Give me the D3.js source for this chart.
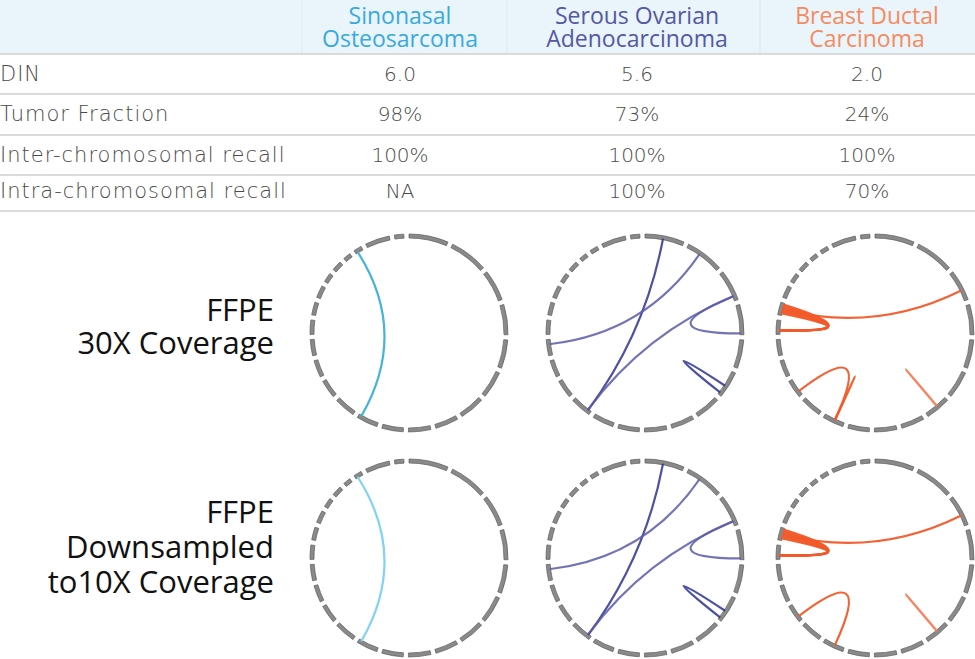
<!DOCTYPE html>
<html>
<head>
<meta charset="utf-8">
<script src="https://cdn.jsdelivr.net/npm/d3@7"></script>
<style>
  body { margin: 0; background: #fff; }
  svg { display: block; font-family: "Open Sans", sans-serif; }
</style>
</head>
<body>
<svg id="chart"></svg>
<script>
// table
const sampleNames = [["Sinonasal", "Osteosarcoma"], ["Serous Ovarian", "Adenocarcinoma"], ["Breast Ductal", "Carcinoma"]];
const rowLabels = ["DIN", "Tumor Fraction", "Inter-chromosomal recall", "Intra-chromosomal recall"];
const dinValues = ["6.0", "5.6", "2.0"];
const tumorFraction = ["98%", "73%", "24%"];
const interRecall = ["100%", "100%", "100%"];
const intraRecall = ["NA", "100%", "70%"];
const conditionLabels = [["FFPE", "30X Coverage"], ["FFPE", "Downsampled", "to10X Coverage"]];

// genome (hg19, Mb)
const chromNames = ["1","2","3","4","5","6","7","8","9","10","11","12","13","14","15","16","17","18","19","20","21","22","X","Y"];
const chromLengths = [249.3,243.2,198.0,191.2,180.9,171.1,159.1,146.4,141.2,135.5,135.0,133.9,115.2,107.3,102.5,90.4,81.2,78.1,59.1,63.0,48.1,51.3,155.3,59.4];

// links: [chrA, posA, chrB, posB, style]
const linksSinonasal = [["22", 15, "11", 117, "main"]];
const linksOvarian = [
  ["1", 116, "12", 21, "dark"],
  ["2", 91, "15", 72, "mid"],
  ["3", 167, "12", 23, "mid"],
  ["3", 167, "4", 183, "mid"],
  ["6", 102, "6", 156, "dark"]
];
const linksBreast30x = [
  ["3", 128, "17", 41, "main"],
  ["17", 14, "16", 28, "main"],
  ["17", 24, "16", 28, "main"],
  ["17", 34, "16", 28, "main"],
  ["17", 44, "16", 28, "main"],
  ["17", 54, "16", 28, "main"],
  ["17", 64, "16", 28, "main"],
  ["17", 72, "16", 28, "main"],
  ["13", 29, "11", 62, "main"],
  ["11", 61, "11", 63.5, "main"],
  ["7", 74, "7", 76, "light"]
];
const linksBreast10x = [
  ["3", 128, "17", 41, "main"],
  ["17", 14, "16", 28, "main"],
  ["17", 24, "16", 28, "main"],
  ["17", 34, "16", 28, "main"],
  ["17", 44, "16", 28, "main"],
  ["17", 54, "16", 28, "main"],
  ["17", 64, "16", 28, "main"],
  ["17", 72, "16", 28, "main"],
  ["13", 29, "11", 62, "main"],
  ["7", 74, "7", 76, "light"]
];

const width = 975, height = 659;
const svg = d3.select("#chart").attr("width", width).attr("height", height);

const colX = [400, 637, 867];
const headerColors = ["#3aaade", "#5558a3", "#f58b60"];
const rowValues = [dinValues, tumorFraction, interRecall, intraRecall];
const rowY = [74, 114, 155, 191];
const lineY = [54, 94, 135, 175, 211];
const tableFont = "'DejaVu Sans', sans-serif";

// header band
svg.append("rect").attr("x", 0).attr("y", 0).attr("width", width).attr("height", 53).attr("fill", "#e9f4fb");
svg.selectAll(".vsep").data([302, 507, 760]).join("line")
  .attr("x1", d => d).attr("x2", d => d).attr("y1", 0).attr("y2", 53)
  .attr("stroke", "#dde9f1").attr("stroke-width", 1);

svg.selectAll(".hsep").data(lineY).join("line")
  .attr("x1", 0).attr("x2", width).attr("y1", d => d).attr("y2", d => d)
  .attr("stroke", "#cfcfcf").attr("stroke-width", 1.5);

sampleNames.forEach((lines, i) => {
  const t = svg.append("text").attr("text-anchor", "middle")
    .attr("fill", headerColors[i]).attr("font-size", 23).attr("font-weight", 400);
  lines.forEach((s, j) => t.append("tspan").attr("x", colX[i]).attr("y", 24 + j * 23).text(s));
});

rowLabels.forEach((lab, r) => {
  svg.append("text").attr("x", 0).attr("y", rowY[r]).attr("dy", "0.35em")
    .attr("font-family", tableFont).attr("letter-spacing", 1)
    .attr("font-size", 21).attr("font-weight", 200).attr("fill", "#4a4a4a").text(lab);
  rowValues[r].forEach((v, c) => {
    svg.append("text").attr("x", colX[c]).attr("y", rowY[r]).attr("dy", "0.35em")
      .attr("font-family", tableFont)
      .attr("text-anchor", "middle").attr("font-size", 20).attr("font-weight", 200)
      .attr("fill", "#4a4a4a").text(v);
  });
});

// condition labels
const condBase = [[321, 354], [523, 558, 593]];
conditionLabels.forEach((lines, i) => {
  const t = svg.append("text").attr("text-anchor", "end").attr("font-size", 31).attr("fill", "#111");
  lines.forEach((s, j) => t.append("tspan").attr("x", 274).attr("y", condBase[i][j]).text(s));
});

// ideogram layout
const gapDeg = 3;
const total = d3.sum(chromLengths);
const degPerMb = (360 - gapDeg * chromLengths.length) / total;
const chromScale = {};
let acc = 0;
chromNames.forEach((c, i) => {
  const a0 = acc, a1 = acc + chromLengths[i] * degPerMb;
  chromScale[c] = d3.scaleLinear().domain([0, chromLengths[i]]).range([a0, a1].map(d => d * Math.PI / 180));
  acc = a1 + gapDeg;
});

const ringR = 97;
const linkR = 95;
const ringArc = d3.arc().innerRadius(ringR - 2).outerRadius(ringR + 2);

const centersX = [409, 645, 875];
const centersY = [333, 558];

const linkColors = {
  sinonasal: [{ main: "#45b3db" }, { main: "#80d3f5" }],
  ovarian: { dark: "#2e3290", mid: "#5a5ca8" },
  breast: { main: "#f15a2a", light: "#f47d58" }
};

function pt(c, p) {
  const a = chromScale[c](p);
  return [linkR * Math.sin(a), -linkR * Math.cos(a)];
}

function drawCircle(cx, cy, links, colors, opacity) {
  const g = svg.append("g").attr("transform", `translate(${cx},${cy})`);
  g.selectAll("path.chr").data(chromNames).join("path")
    .attr("class", "chr")
    .attr("d", c => ringArc({ startAngle: chromScale[c].range()[0], endAngle: chromScale[c].range()[1] }))
    .attr("fill", "#8a8a8a").attr("stroke", "#5a5a5a").attr("stroke-width", 0.7);
  g.selectAll("path.link").data(links).join("path")
    .attr("class", "link")
    .attr("d", d => {
      const p = d3.path();
      const a = pt(d[0], d[1]), b = pt(d[2], d[3]);
      p.moveTo(a[0], a[1]);
      p.quadraticCurveTo(0, 0, b[0], b[1]);
      return p.toString();
    })
    .attr("fill", "none")
    .attr("stroke", d => colors[d[4]])
    .attr("stroke-opacity", opacity)
    .attr("stroke-width", 2.2)
    .attr("stroke-linecap", "round");
}

centersY.forEach((cy, row) => {
  drawCircle(centersX[0], cy, linksSinonasal, linkColors.sinonasal[row], 1);
  drawCircle(centersX[1], cy, linksOvarian, linkColors.ovarian, 0.85);
  drawCircle(centersX[2], cy, row === 0 ? linksBreast30x : linksBreast10x, linkColors.breast, 0.95);
});
</script>
</body>
</html>
